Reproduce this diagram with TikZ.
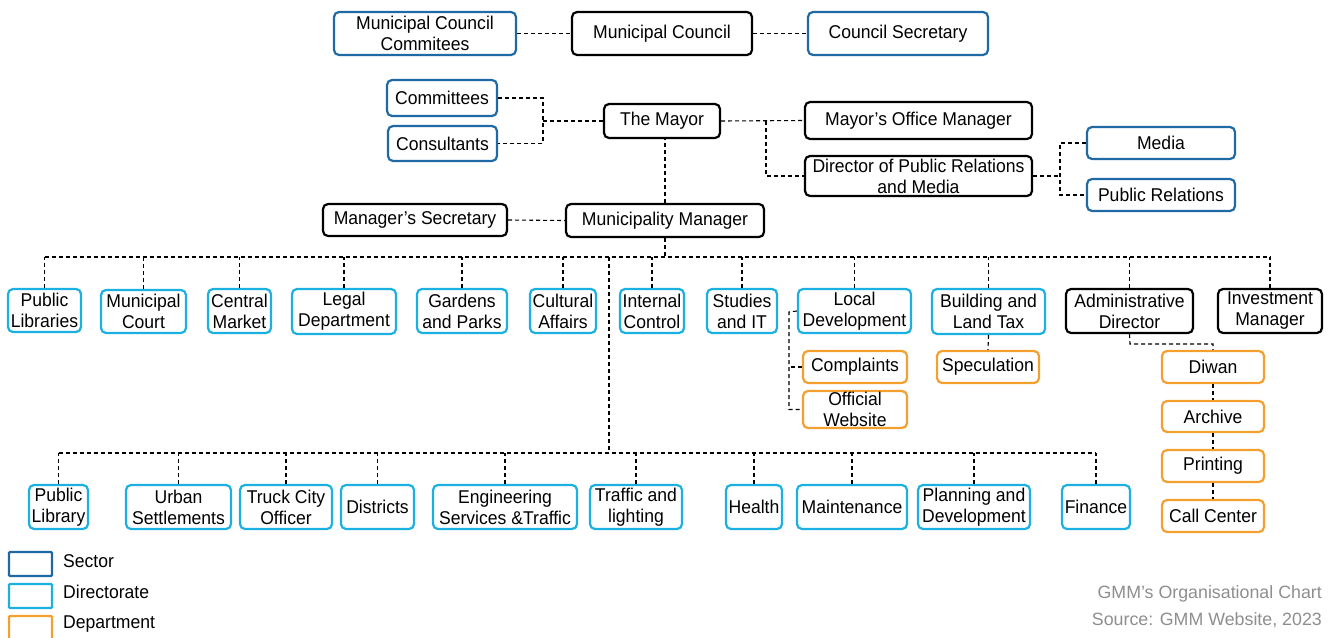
\documentclass[tikz,border=0pt]{standalone}
\usepackage{fontspec}
\setmainfont{Liberation Sans}[FakeStretch=0.95]
\newfontfamily\srcfont{Liberation Sans}
\definecolor{secblue}{HTML}{1F6AA5}
\definecolor{dirblue}{HTML}{1AB0E2}
\definecolor{deporange}{HTML}{F5A02E}
\definecolor{srcgray}{HTML}{8E8E8E}
\newcommand\bx[7]{\node[#6, minimum width={#4-#2}, minimum height={#5-#3}] (#1) at ({(#2+#4)/2},{(#3+#5)/2}) {#7};}
\tikzset{
  box/.style={rounded corners=5pt, line width=2.2pt, inner sep=0pt, align=center, text=black,
    font=\fontsize{18.5}{21}\selectfont},
  sector/.style={box, draw=secblue},
  direc/.style={box, draw=dirblue},
  depart/.style={box, draw=deporange},
  blk/.style={box, draw=black},
  conn/.style={line width=1.1pt, dash pattern=on 4pt off 3pt, black},
  legbox/.style={line width=2.2pt, rounded corners=1pt},
  legtext/.style={anchor=west, font=\fontsize{18.5}{21}\selectfont, inner sep=0pt},
  srctext/.style={anchor=east, font=\srcfont\fontsize{17.8}{20}\selectfont, text=srcgray, inner sep=0pt}
}
\begin{document}
\begin{tikzpicture}[x=1pt,y=-1pt]
\useasboundingbox (0,0) rectangle (1329,637);
% top row
\bx{mcc}{334}{12}{516}{55}{sector}{Municipal Council\\Commitees}
\bx{mc}{572}{12}{752}{55}{blk}{Municipal Council}
\bx{cs}{808}{12}{988}{55}{sector}{Council Secretary}
% mayor group
\bx{comm}{387}{80}{497}{116}{sector}{Committees}
\bx{cons}{388}{126}{497}{161}{sector}{Consultants}
\bx{mayor}{604}{104}{720}{138}{blk}{The Mayor}
\bx{mom}{805}{102}{1032}{139}{blk}{Mayor's Office Manager}
\bx{dpr}{805}{156}{1032}{196}{blk}{Director of Public Relations\\and Media}
\bx{media}{1087}{127}{1235}{159}{sector}{Media}
\bx{pr}{1087}{179}{1235}{211}{sector}{Public Relations}
\bx{msec}{323}{204}{507}{236}{blk}{Manager's Secretary}
\bx{mm}{566}{204}{764}{237}{blk}{Municipality Manager}
% row 1
\bx{plibs}{8}{289}{81}{332}{direc}{Public\\Libraries}
\bx{court}{101}{290}{186}{333}{direc}{Municipal\\Court}
\bx{cmkt}{208}{289}{271}{333}{direc}{Central\\Market}
\bx{legal}{292}{289}{396}{334}{direc}{Legal\\Department}
\bx{gard}{417}{289}{507}{333}{direc}{Gardens\\and Parks}
\bx{cult}{530}{289}{596}{333}{direc}{Cultural\\Affairs}
\bx{intc}{620}{289}{684}{333}{direc}{Internal\\Control}
\bx{stud}{707}{289}{777}{333}{direc}{Studies\\and IT}
\bx{ldev}{798}{289}{911}{333}{direc}{Local\\Development}
\bx{bltax}{932}{289}{1045}{334}{direc}{Building and\\Land Tax}
\bx{adm}{1066}{289}{1193}{333}{blk}{Administrative\\Director}
\bx{inv}{1218}{289}{1322}{333}{blk}{Investment\\Manager}
% sub departments
\bx{compl}{803}{351}{907}{383}{depart}{Complaints}
\bx{oweb}{803}{391}{907}{428}{depart}{Official\\Website}
\bx{spec}{937}{351}{1039}{383}{depart}{Speculation}
\bx{diwan}{1162}{351}{1264}{383}{depart}{Diwan}
\bx{arch}{1162}{401}{1264}{432}{depart}{Archive}
\bx{print}{1162}{450}{1264}{482}{depart}{Printing}
\bx{call}{1162}{500}{1264}{532}{depart}{Call Center}
% row 2
\bx{plib}{29}{485}{88}{529}{direc}{Public\\Library}
\bx{urban}{126}{485}{231}{529}{direc}{Urban\\Settlements}
\bx{truck}{240}{485}{332}{529}{direc}{Truck City\\Officer}
\bx{dist}{341}{485}{414}{529}{direc}{Districts}
\bx{eng}{433}{485}{577}{529}{direc}{Engineering\\Services \&Traffic}
\bx{traf}{590}{485}{682}{529}{direc}{Traffic and\\lighting}
\bx{health}{726}{485}{782}{529}{direc}{Health}
\bx{maint}{797}{485}{907}{529}{direc}{Maintenance}
\bx{plan}{918}{485}{1030}{529}{direc}{Planning and\\Development}
\bx{fin}{1062}{485}{1130}{529}{direc}{Finance}
% connectors top
\draw[conn] (mcc.east) -- (mc.west);
\draw[conn] (mc.east) -- (cs.west);
\coordinate (j1) at (543,121);
\draw[conn] (comm.east) -- (comm.east -| j1) -- (cons.east -| j1) -- (cons.east);
\draw[conn] (j1) -- (mayor.west);
\coordinate (j2) at (766,121);
\draw[conn] (mayor.east) -- (mom.west);
\draw[conn] (j2) |- (dpr.west);
\coordinate (j3) at (1060,176);
\draw[conn] (dpr.east) -- (j3);
\draw[conn] (media.west) -- (media.west -| j3) -- (pr.west -| j3) -- (pr.west);
\draw[conn] (mm.north) -- (mm.north |- mayor.south);
\draw[conn] (msec.east) -- (mm.west);
% bus 1
\coordinate (b1) at (665,257);
\draw[conn] (mm.south) -- (b1);
\draw[conn] (plibs.north |- b1) -- (inv.north |- b1);
\foreach \n in {plibs,court,cmkt,legal,gard,cult,intc,stud,ldev,bltax,adm,inv}
  \draw[conn] (\n.north) -- (\n.north |- b1);
% bus 2
\coordinate (b2) at (609,453);
\draw[conn] (b1 -| b2) -- (b2);
\draw[conn] (plib.north |- b2) -- (fin.north |- b2);
\foreach \n in {plib,urban,truck,dist,eng,traf,health,maint,plan,fin}
  \draw[conn] (\n.north) -- (\n.north |- b2);
% local development
\coordinate (j4) at (789,312);
\draw[conn] (ldev.west) -- (j4) -- (oweb.west -| j4) -- (oweb.west);
\draw[conn] (compl.west) -- (compl.west -| j4);
% building
\draw[conn] (bltax.south) -- (spec.north);
% admin
\coordinate (j5) at (1130,344);
\draw[conn] (adm.south) -- (j5) -| (diwan.north);
\draw[conn] (diwan.south) -- (arch.north);
\draw[conn] (arch.south) -- (print.north);
\draw[conn] (print.south) -- (call.north);
% legend
\draw[legbox, draw=secblue] (9,552) rectangle (52,576);
\draw[legbox, draw=dirblue] (9,584) rectangle (52,608);
\draw[legbox, draw=deporange] (9,616) rectangle (52,641);
\node[legtext] (lsec) at (63,561) {Sector};
\node[legtext] (ldir) at (63,592) {Directorate};
\node[legtext] (ldep) at (63,624) {Department};
% source
\node[srctext] (src1) at (1322,594) {GMM’s Organisational Chart};
\node[srctext] (src2) at (1322,620) {Source: GMM Website, 2023};
\end{tikzpicture}
\end{document}
